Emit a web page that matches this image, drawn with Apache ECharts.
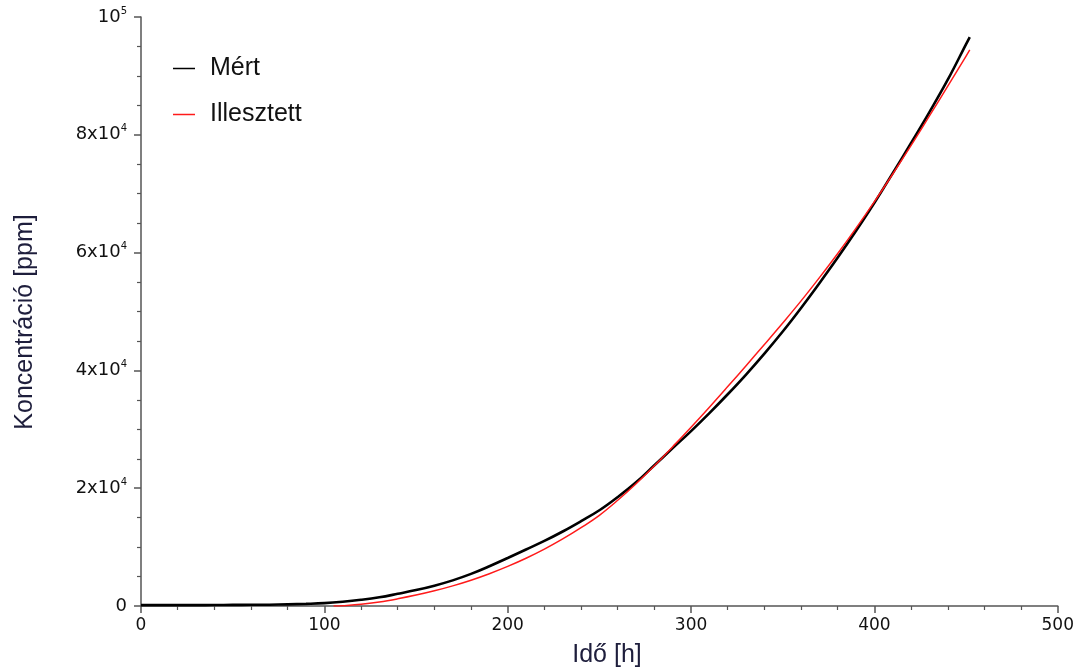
<!DOCTYPE html>
<html>
<head>
<meta charset="utf-8">
<script src="https://cdn.jsdelivr.net/npm/echarts@6/dist/echarts.min.js"></script>
<style>html,body{margin:0;padding:0;background:#fff}#c{width:1077px;height:669px}</style>
</head>
<body>
<div id="c"></div>
<script>
// Measured (Mért)
const measuredTime = [0,10,20,30,40,50,60,70,80,90,100,110,120,130,140,150,160,170,180,190,200,210,220,230,240,250,260,270,280,290,300,310,320,330,340,350,360,370,380,390,400,410,420,430,440,450,452];
const measuredValues = [150,150,150,150,170,190,200,220,280,360,480,720,1050,1480,2070,2700,3450,4350,5450,6750,8150,9600,11050,12650,14400,16250,18500,21000,23900,26800,29700,32750,35950,39300,42850,46600,50600,54800,59150,63700,68450,73500,78600,83850,89350,95400,96600];
// Fitted (Illesztett)
const fitTime = [105,110,120,130,140,150,160,170,180,190,200,210,220,230,240,250,260,270,280,290,300,310,320,330,340,350,360,370,380,390,400,410,420,430,440,450,452];
const fitValues = [0,60,280,680,1220,1850,2580,3420,4380,5480,6720,8100,9650,11380,13300,15400,17950,20750,23800,27050,30350,33750,37250,40800,44400,48050,51800,55750,59850,64150,68650,73350,78200,83200,88250,93350,94400];
const xTicks = [0,100,200,300,400,500];
const yTickLabels = {0:'0',20000:'{b|2x10}{s|4}',40000:'{b|4x10}{s|4}',60000:'{b|6x10}{s|4}',80000:'{b|8x10}{s|4}',100000:'{b|10}{s|5}'};
const xTitle = 'Idő [h]';
const yTitle = 'Koncentráció [ppm]';

const pair = (t, v) => t.map((x, i) => [x, v[i]]);
const chart = echarts.init(document.getElementById('c'), null, {renderer:'canvas'});
const axisCol = '#555';
const titleStyle = {fontFamily:'Liberation Sans, Arial',fontSize:25,fill:'#1e1e3c'};
chart.setOption({
  animation:false,
  backgroundColor:'#fff',
  grid:{left:141,right:19,top:17,bottom:63,containLabel:false},
  legend:{
    orient:'vertical', left:168, top:51, itemGap:21,
    itemWidth:22, itemHeight:1.5, icon:'rect',
    textStyle:{fontFamily:'Liberation Sans, Arial',fontSize:25,color:'#111',padding:[0,0,0,10]},
    data:['Mért','Illesztett']
  },
  graphic:[
    {type:'text',x:607,y:655,style:Object.assign({text:xTitle,textAlign:'center',textVerticalAlign:'middle'},titleStyle)},
    {type:'text',x:25,y:322,rotation:Math.PI/2,style:Object.assign({text:yTitle,textAlign:'center',textVerticalAlign:'middle'},titleStyle)}
  ],
  xAxis:{
    type:'value', min:0, max:500, interval:100,
    axisLine:{show:true,onZero:false,lineStyle:{color:axisCol,width:1.5}},
    axisTick:{show:true,length:7,lineStyle:{color:axisCol,width:1.5}},
    minorTick:{show:true,splitNumber:5,length:4,lineStyle:{color:axisCol,width:1.2}},
    splitLine:{show:false},
    axisLabel:{fontFamily:'DejaVu Sans, Verdana',fontSize:17,color:'#111',margin:11,
      formatter:v=>xTicks.includes(v)?String(v):''}
  },
  yAxis:{
    type:'value', min:0, max:100000, interval:20000,
    axisLine:{show:true,onZero:false,lineStyle:{color:axisCol,width:1.5}},
    axisTick:{show:true,length:7,lineStyle:{color:axisCol,width:1.5}},
    minorTick:{show:true,splitNumber:4,length:4,lineStyle:{color:axisCol,width:1.2}},
    splitLine:{show:false},
    axisLabel:{margin:14,color:'#111',fontFamily:'DejaVu Sans, Verdana',fontSize:18,
      formatter:v=>yTickLabels[v]!==undefined?yTickLabels[v]:'',
      rich:{
        b:{fontFamily:'DejaVu Sans, Verdana',fontSize:18,color:'#111',lineHeight:22},
        s:{fontFamily:'DejaVu Sans, Verdana',fontSize:10,color:'#111',verticalAlign:'top',lineHeight:22}
      }}
  },
  series:[
    {name:'Mért',type:'line',data:pair(measuredTime,measuredValues),showSymbol:false,smooth:0.4,
     color:'#000',lineStyle:{color:'#000',width:2.6}},
    {name:'Illesztett',type:'line',data:pair(fitTime,fitValues),showSymbol:false,smooth:0.4,
     color:'#ff1a1a',lineStyle:{color:'#ff1a1a',width:1.5}}
  ]
});
</script>
</body>
</html>
